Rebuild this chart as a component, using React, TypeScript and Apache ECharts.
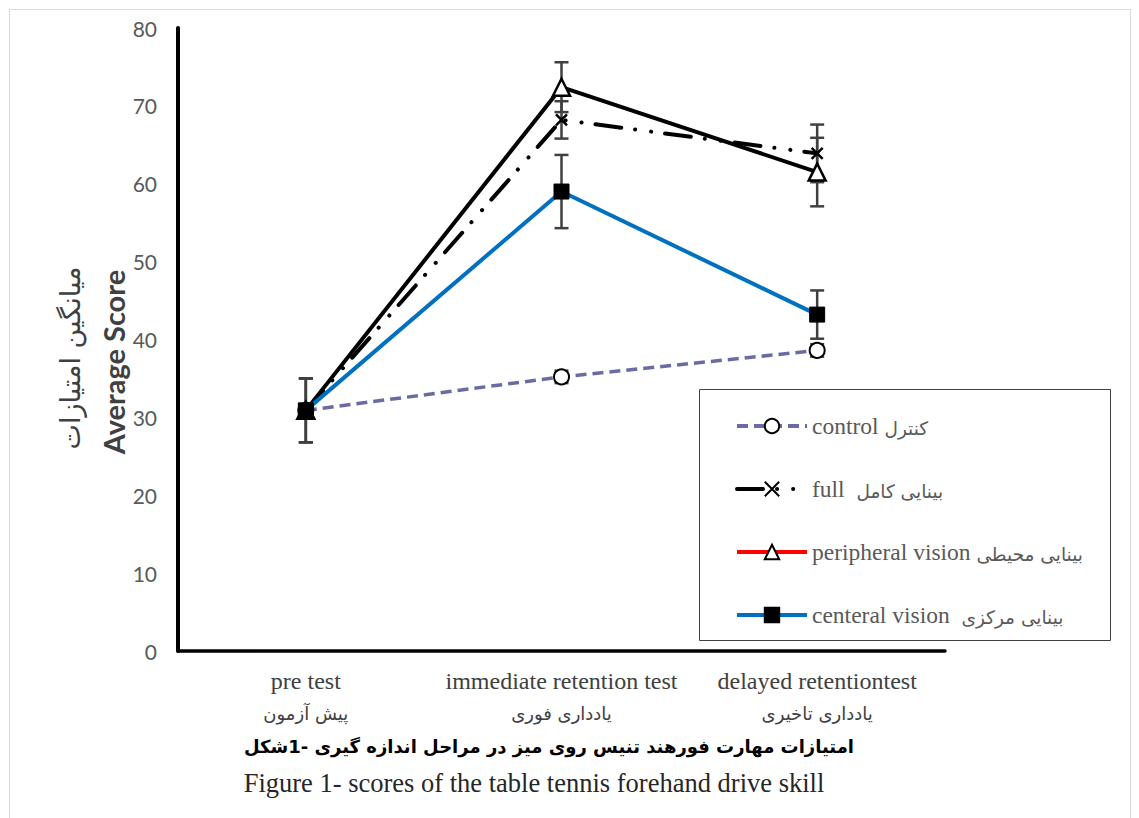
import React, { useEffect, useRef } from "react";
import * as echarts from "echarts";

const categories = ["pre test", "immediate retention test", "delayed retentiontest"];
const categoriesFa = ["پیش آزمون", "یادداری فوری", "یادداری تاخیری"];

const controlValues = [30.9, 35.2, 38.6];
const fullValues = [30.9, 68.2, 63.9];
const peripheralValues = [30.9, 72.4, 61.5];
const centralValues = [30.9, 59.0, 43.2];

const controlErr = [0.8, 0.8, 0.8];
const fullErr = [4.1, 2.4, 3.7];
const peripheralErr = [4.1, 3.2, 4.4];
const centralErr = [4.1, 4.7, 3.1];

const legendEn = ["control ", "full  ", "peripheral vision ", "centeral vision  "];
const legendFa = ["کنترل", "بینایی کامل", "بینایی محیطی", "بینایی مرکزی"];
const seriesNames = legendEn.map((e, i) => e + legendFa[i]);

const yMin = 0;
const yMax = 80;
const yInterval = 10;

const captionFa = "امتیازات مهارت فورهند تنیس روی میز در مراحل اندازه گیری -1شکل";
const captionEn = "Figure 1- scores of the table tennis forehand drive skill";
const yTitleFa = "میانگین امتیازات";
const yTitleEn = "Average Score";

const X_SYMBOL = "path://M0,0 L10,10 M10,0 L0,10";

export default function App() {
  const ref = useRef<HTMLDivElement>(null);
  useEffect(() => {
    document.body.style.margin = "0";
    const chart = echarts.init(ref.current!, null, { renderer: "svg" });

    const errData: number[][] = [];
    const allVals = [controlValues, fullValues, peripheralValues, centralValues];
    const allErr = [controlErr, fullErr, peripheralErr, centralErr];
    allVals.forEach((vals, s) => {
      vals.forEach((v, i) => errData.push([i, v, allErr[s][i]]));
    });

    const serif = "'Liberation Serif', 'Times New Roman', serif";

    const option: any = {
      animation: false,
      backgroundColor: "#ffffff",
      grid: { left: 178, top: 28, width: 767, height: 623, containLabel: false },
      xAxis: {
        type: "category",
        data: categories,
        boundaryGap: true,
        axisLine: { show: true, lineStyle: { color: "#000", width: 3.5 } },
        axisTick: { show: false },
        splitLine: { show: false },
        axisLabel: {
          margin: 13,
          interval: 0,
          formatter: (v: string, i: number) => `{en|${v}}\n{fa|${categoriesFa[i]}}`,
          rich: {
            en: { fontFamily: serif, fontSize: 24, color: "#404040", lineHeight: 33 },
            fa: { fontFamily: "'DejaVu Sans', serif", fontSize: 18, color: "#404040", lineHeight: 33 },
          },
        },
      },
      yAxis: {
        type: "value",
        min: yMin,
        max: yMax,
        interval: yInterval,
        axisLine: { show: true, lineStyle: { color: "#000", width: 4 } },
        axisTick: { show: false },
        splitLine: { show: false },
        axisLabel: { margin: 21, fontFamily: "Lato, 'Open Sans', sans-serif", fontSize: 21, color: "#595959" },
      },
      legend: {
        orient: "vertical",
        left: 730,
        top: 409,
        itemWidth: 70,
        itemHeight: 18,
        itemGap: 39,
        selectedMode: false,
        formatter: (name: string) => {
          const i = seriesNames.indexOf(name);
          return `{en|${legendEn[i]}}{fa|${legendFa[i]}}`;
        },
        textStyle: {
          fontFamily: serif,
          fontSize: 23.5,
          color: "#595959",
          lineHeight: 24,
          rich: {
            en: { fontFamily: serif, fontSize: 23.5, color: "#595959", lineHeight: 24 },
            fa: { fontFamily: "'DejaVu Sans', serif", fontSize: 18.5, color: "#595959", lineHeight: 24, padding: [4, 0, 0, 0] },
          },
        },
        data: [
          { name: seriesNames[0], lineStyle: { width: 4 } },
          { name: seriesNames[1], lineStyle: { width: 4 } },
          { name: seriesNames[2], lineStyle: { color: "#ff0000", type: "solid", width: 4 } },
          { name: seriesNames[3], lineStyle: { width: 4 } },
        ],
      },
      graphic: [
        {
          type: "rect",
          shape: { x: 699.5, y: 389.5, width: 411, height: 251 },
          style: { fill: "#fff", stroke: "#404040", lineWidth: 1 },
          z: 0,
        },
        {
          type: "rect",
          shape: { x: 9.5, y: 9.5, width: 1121, height: 820 },
          style: { fill: "none", stroke: "#d9d9d9", lineWidth: 1 },
          z: 0,
        },
        {
          type: "text",
          x: 70,
          y: 358,
          rotation: Math.PI / 2,
          style: {
            text: yTitleFa,
            fontFamily: "'DejaVu Sans', sans-serif",
            fontSize: 27,
            fill: "#404040",
            align: "center",
            verticalAlign: "middle",
          },
        },
        {
          type: "text",
          x: 113,
          y: 362,
          rotation: Math.PI / 2,
          style: {
            text: yTitleEn,
            fontFamily: "Lato, 'Open Sans', sans-serif",
            fontWeight: "bold",
            fontSize: 29,
            fill: "#404040",
            align: "center",
            verticalAlign: "middle",
          },
        },
        {
          type: "text",
          x: 549,
          y: 746,
          style: {
            text: captionFa,
            fontFamily: "'DejaVu Sans', serif",
            fontWeight: "bold",
            fontSize: 18,
            fill: "#000",
            align: "center",
            verticalAlign: "middle",
          },
        },
        {
          type: "text",
          x: 534,
          y: 783,
          style: {
            text: captionEn,
            fontFamily: serif,
            fontSize: 26.5,
            fill: "#262626",
            align: "center",
            verticalAlign: "middle",
          },
        },
      ],
      series: [
        {
          type: "custom",
          name: "err",
          z: 1,
          silent: true,
          data: errData,
          renderItem: (params: any, api: any) => {
            const i = api.value(0);
            const v = api.value(1);
            const e = api.value(2);
            const top = api.coord([i, v + e]);
            const bot = api.coord([i, v - e]);
            const w = 7;
            const style = { stroke: "#404040", lineWidth: 2.5 };
            return {
              type: "group",
              children: [
                { type: "line", shape: { x1: top[0], y1: top[1], x2: bot[0], y2: bot[1] }, style },
                { type: "line", shape: { x1: top[0] - w, y1: top[1], x2: top[0] + w, y2: top[1] }, style },
                { type: "line", shape: { x1: bot[0] - w, y1: bot[1], x2: bot[0] + w, y2: bot[1] }, style },
              ],
            };
          },
        },
        {
          type: "line",
          name: seriesNames[0],
          data: controlValues,
          z: 2,
          symbol: "circle",
          symbolSize: 15,
          lineStyle: { color: "#6b6ba3", width: 3.5, type: [11, 6] },
          itemStyle: { color: "#fff", borderColor: "#000", borderWidth: 2 },
        },
        {
          type: "line",
          name: seriesNames[1],
          data: fullValues,
          z: 3,
          symbol: X_SYMBOL,
          symbolSize: 11,
          lineStyle: { color: "#000", width: 4, type: [26, 14, 0.1, 16, 0.1, 14], cap: "round" },
          itemStyle: { color: "#000", borderColor: "#000", borderWidth: 2.5 },
        },
        {
          type: "line",
          name: seriesNames[2],
          data: peripheralValues,
          z: 4,
          symbol: "triangle",
          symbolSize: 17,
          lineStyle: { color: "#000", width: 4 },
          itemStyle: { color: "#fff", borderColor: "#000", borderWidth: 2.5 },
        },
        {
          type: "line",
          name: seriesNames[3],
          data: centralValues,
          z: 5,
          symbol: "rect",
          symbolSize: 15,
          lineStyle: { color: "#0070c0", width: 4 },
          itemStyle: { color: "#000", borderColor: "#000", borderWidth: 1 },
        },
      ],
    };
    chart.setOption(option);
    return () => chart.dispose();
  }, []);
  return <div ref={ref} style={{ width: 1139, height: 818 }} />;
}
